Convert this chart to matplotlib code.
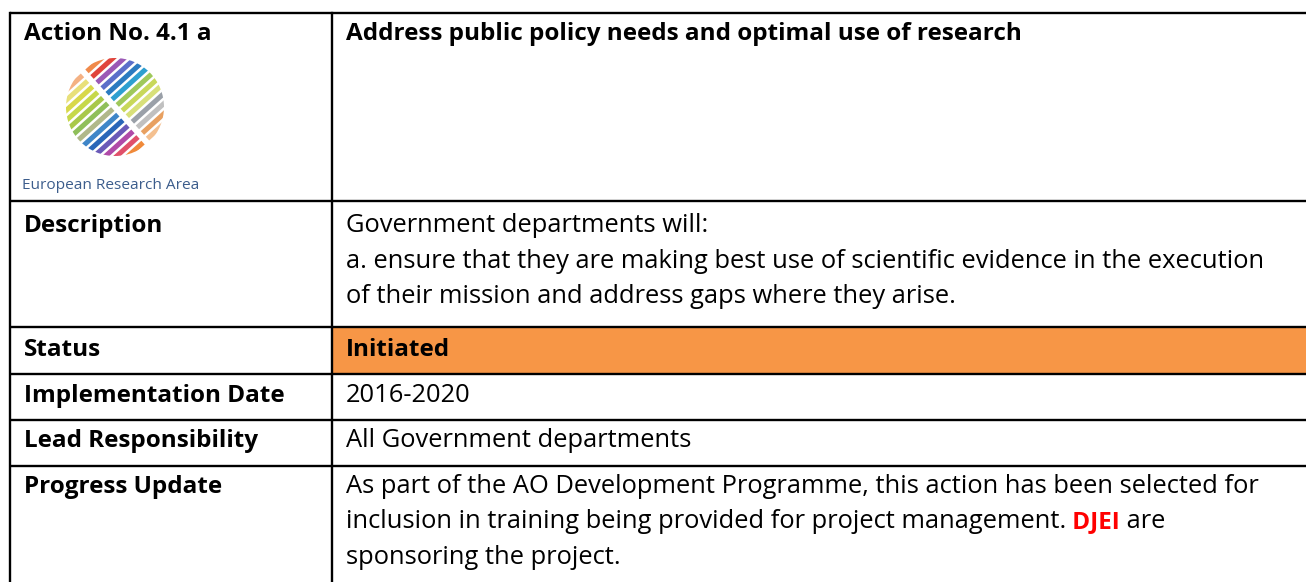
import numpy as np
import matplotlib.pyplot as plt
from matplotlib.patches import Rectangle, Circle

# table content
row_labels = ["Action No. 4.1 a", "Description", "Status", "Implementation Date",
              "Lead Responsibility", "Progress Update"]
title_text = "Address public policy needs and optimal use of research"
description_lines = ["Government departments will:",
                     "a. ensure that they are making best use of scientific evidence in the execution",
                     "of their mission and address gaps where they arise."]
status_text = "Initiated"
date_text = "2016-2020"
lead_text = "All Government departments"
progress_lines = ["As part of the AO Development Programme, this action has been selected for",
                  "inclusion in training being provided for project management.",
                  "sponsoring the project."]
progress_red = " DJEI"
progress_tail = " are"
logo_caption = "European Research Area"

# logo stripe colours (lower-left half, upper-right half), from top-left stripe down
stripe_colors = [("#f4b183", "#f08a4b"), ("#e8e07a", "#e0453c"), ("#d8d84a", "#9b59b6"),
                 ("#c6d84a", "#5b6fc9"), ("#a8c84a", "#2b7bc0"), ("#8fbf5a", "#2e9fd0"),
                 ("#b0b88a", "#9fc85a"), ("#3f86c8", "#c8d85a"), ("#2a66b8", "#d8e07a"),
                 ("#6a5ab8", "#9aa0a8"), ("#b04aa8", "#c0c0c0"), ("#e0506a", "#e8a060"),
                 ("#f08a3a", "#f4c090")]

W, H = 1306, 582
fig = plt.figure(figsize=(W / 100, H / 100), dpi=100)
ax = fig.add_axes([0, 0, 1, 1])
ax.set_xlim(0, W)
ax.set_ylim(H, 0)
ax.axis("off")

plt.rcParams['font.family'] = ['Open Sans', 'DejaVu Sans']
fs = 18.4     # regular text
fs_b = 17.5   # bold text

x_left, x_mid, x_right = 10, 332, W + 5
row_y = [13, 201, 327, 374, 420, 466, H + 5]

# status fill
ax.add_patch(Rectangle((x_mid, row_y[2]), x_right - x_mid, row_y[3] - row_y[2],
                       facecolor="#f79646", edgecolor="none", zorder=0))

lw = 1.7
for y in row_y[:-1]:
    ax.plot([x_left, x_right], [y, y], color="black", lw=lw, solid_capstyle="butt", zorder=3)
ax.plot([x_left, x_left], [row_y[0], H + 5], color="black", lw=lw, zorder=3)
ax.plot([x_mid, x_mid], [row_y[0], H + 5], color="black", lw=lw, zorder=3)

tx_l, tx_r = 24, 346
base = [40, 232, 356, 402, 447, 493]
step = 35.5

for lab, b in zip(row_labels, base):
    ax.text(tx_l, b, lab, fontsize=fs_b, fontweight="bold", va="baseline", ha="left")

ax.text(tx_r, base[0], title_text, fontsize=fs_b, fontweight="bold", va="baseline")
for i, line in enumerate(description_lines):
    ax.text(tx_r, base[1] + i * step, line, fontsize=fs, va="baseline")
ax.text(tx_r, base[2], status_text, fontsize=fs_b, fontweight="bold", va="baseline")
ax.text(tx_r, base[3], date_text, fontsize=fs, va="baseline")
ax.text(tx_r, base[4], lead_text, fontsize=fs, va="baseline")
for i, line in enumerate(progress_lines):
    t = ax.text(tx_r, base[5] + i * step, line, fontsize=fs, va="baseline")
    if i == 1:
        fig.canvas.draw()
        bb = t.get_window_extent().transformed(ax.transData.inverted())
        t2 = ax.text(bb.x1, base[5] + i * step, progress_red, fontsize=fs_b,
                     fontweight="bold", color="#ff0000", va="baseline")
        fig.canvas.draw()
        bb2 = t2.get_window_extent().transformed(ax.transData.inverted())
        ax.text(bb2.x1, base[5] + i * step, progress_tail, fontsize=fs, va="baseline")

# logo
cx, cy, r = 115, 107, 49
clip = Circle((cx, cy), r, transform=ax.transData)
d = np.array([np.cos(np.radians(42)), -np.sin(np.radians(42))])
n = np.array([np.sin(np.radians(42)), np.cos(np.radians(42))])
spacing = 2 * r / len(stripe_colors)
for k, (c1, c2) in enumerate(stripe_colors):
    off = -r + spacing * (k + 0.5)
    p0 = np.array([cx, cy]) + n * off
    for sgn, col in ((-1, c1), (1, c2)):
        a = p0 + d * sgn * 3
        b = p0 + d * sgn * 70
        ln, = ax.plot([a[0], b[0]], [a[1], b[1]], color=col, lw=3.6,
                      solid_capstyle="butt", zorder=2)
        ln.set_clip_path(clip)
ax.text(22, 189, logo_caption, fontsize=11.1, color="#3c5d8c", va="baseline")

fig.savefig("out.png", dpi=100)
